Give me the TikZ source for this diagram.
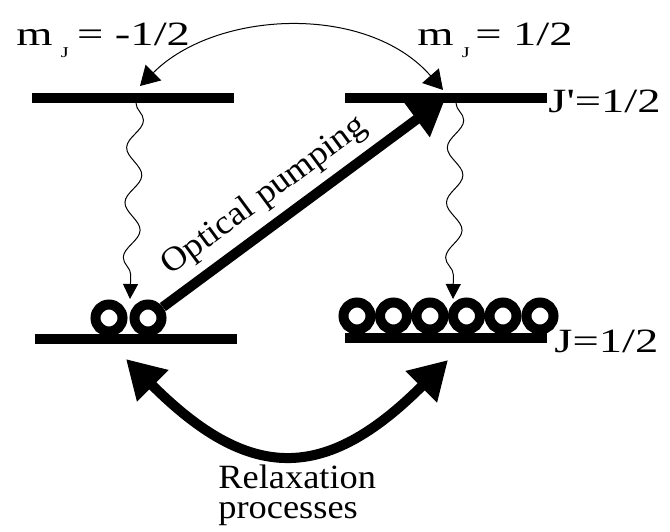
\documentclass[tikz,border=0pt]{standalone}
\usepackage{fontspec}
\usepackage{graphicx}
\setmainfont{Liberation Serif}
\usepackage{tikz}
\usetikzlibrary{arrows.meta,decorations.pathmorphing}
\newcommand{\widetxt}[1]{\scalebox{1.37}[1]{#1}}
\newcommand{\bodytxt}[1]{\scalebox{1.07}[1]{#1}}
\tikzset{
  lvl/.style={
    fill=black, inner sep=0pt, outer sep=0pt,
    minimum width=101pt, minimum height=5pt
  },
  atom/.style={circle, draw=black, line width=5pt, inner sep=0pt, minimum size=13.5pt},
  pumparr/.style={-{Triangle[length=18pt,width=21pt]}, line width=5pt},
  relaxarr/.style={{Triangle[length=19pt,width=21pt]}-{Triangle[length=19pt,width=21pt]}, line width=5pt},
  thinarr/.style={{Triangle[length=9.5pt,width=11pt]}-{Triangle[length=9.5pt,width=11pt]}, line width=0.5pt},
  wavearr/.style={
    -{Triangle[length=7.5pt,width=7.5pt]}, line width=0.5pt, decorate,
    decoration={snake, amplitude=4pt, segment length=27.5pt, post length=8pt}
  },
  lbl/.style={font=\fontsize{17}{20}\selectfont, inner sep=0pt, anchor=base west},
  txt/.style={font=\fontsize{17}{15}\selectfont, inner sep=0pt}
}
\begin{document}
\begin{tikzpicture}[x=0.5pt, y=-0.5pt]
  \useasboundingbox (0,0) rectangle (670,531);
  % levels
  \node[lvl] (upL) at (133,98) {};
  \node[lvl] (upR) at (445.5,98) {};
  \node[lvl] (loL) at (135.5,339) {};
  \node[lvl] (loR) at (445.5,338) {};
  % atoms
  \node[atom] (a1) at (109,318) {};
  \node[atom] (a2) at (148,318) {};
  \foreach \i/\x in {1/357,2/393.5,3/430,4/466.5,5/503,6/540}
    \node[atom] (b\i) at (\x,316) {};
  % labels
  \node[lbl] (mneg) at (16,45) {\widetxt{m\hspace{3pt}\raisebox{-6pt}{\fontsize{7.5}{7.5}\selectfont J}\hspace{3pt}= -1/2}};
  \node[lbl] (mpos) at (417,45) {\widetxt{m\hspace{3pt}\raisebox{-6pt}{\fontsize{7.5}{7.5}\selectfont J}\hspace{2pt}= 1/2}};
  \node[lbl] (jup) at (548,112) {\widetxt{J\textquotesingle=1/2}};
  \node[lbl] (jlo) at (554,352) {\widetxt{J=1/2}};
  % m_J exchange
  \coordinate (tl) at (140,86);
  \coordinate (tr) at (443,90);
  \draw[thinarr] (tl) .. controls (216,10) and (367,3) .. (tr);
  % spontaneous decay
  \coordinate (wl) at (136,103);
  \coordinate (wlend) at (130,299);
  \coordinate (wr) at (456,103);
  \coordinate (wrend) at (453,299);
  \draw[wavearr] (wl) -- (wlend);
  \draw[wavearr] (wr) -- (wrend);
  % pumping
  \draw[pumparr] (a2) -- (upR.center)
    node[pos=0.42, sloped, above, txt, inner sep=4pt] (pump) {\bodytxt{Optical pumping}};
  % relaxation
  \coordinate (rl) at (126,359);
  \coordinate (rr) at (448,360);
  \draw[relaxarr] (rl) .. controls (249,482) and (325,483) .. (rr);
  \node[txt, align=left, anchor=north west] (relax) at (218,465) {\bodytxt{Relaxation}\\\bodytxt{processes}};
\end{tikzpicture}
\end{document}
